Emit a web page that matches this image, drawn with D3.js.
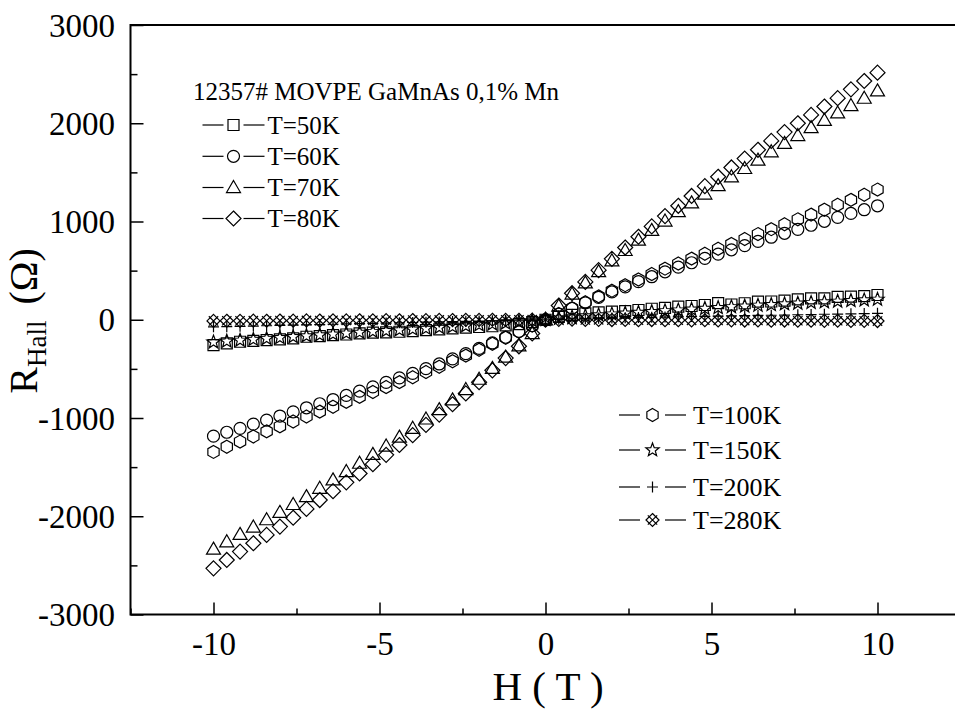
<!DOCTYPE html>
<html>
<head>
<meta charset="utf-8">
<script src="https://cdn.jsdelivr.net/npm/d3@7"></script>
<style>
  html, body { margin: 0; padding: 0; background: #fff; overflow: hidden; }
  text { font-family: "Liberation Serif", "Times New Roman", serif; fill: #000; }
</style>
</head>
<body>
<svg id="chart" width="955" height="709"></svg>
<script>
// Magnetic field (T)
const fieldT = [-10, -9.6, -9.2, -8.8, -8.4, -8, -7.6, -7.2, -6.8, -6.4, -6, -5.6, -5.2, -4.8, -4.4, -4, -3.6, -3.2, -2.8, -2.4, -2, -1.6, -1.2, -0.8, -0.4,
  0, 0.4, 0.8, 1.2, 1.6, 2, 2.4, 2.8, 3.2, 3.6, 4, 4.4, 4.8, 5.2, 5.6, 6, 6.4, 6.8, 7.2, 7.6, 8, 8.4, 8.8, 9.2, 9.6, 10];

// Hall resistance (Ohm) for each temperature
const hall50K = [-258, -241, -224, -214, -207, -200, -190, -173, -166, -156, -150, -139, -132, -129, -122, -115, -105, -97, -88, -80, -74, -66, -58, -45, -25,
  0, 30, 50, 65, 75, 82, 88, 99, 112, 120, 133, 140, 150, 170, 155, 168, 184, 186, 194, 208, 218, 218, 233, 236, 241, 252];
const hall60K = [-1185, -1145, -1105, -1063, -1022, -980, -938, -896, -855, -812, -770, -727, -683, -638, -592, -546, -498, -450, -398, -345, -292, -236, -178, -118, -60,
  0, 58, 115, 172, 228, 283, 335, 388, 438, 488, 535, 580, 625, 668, 712, 755, 798, 840, 880, 920, 962, 1002, 1042, 1082, 1120, 1160];
const hall70K = [-2335, -2260, -2185, -2110, -2035, -1960, -1880, -1800, -1715, -1630, -1545, -1460, -1370, -1285, -1195, -1105, -1010, -915, -815, -710, -605, -495, -380, -265, -140,
  0, 140, 262, 375, 490, 600, 705, 810, 910, 1005, 1100, 1190, 1280, 1365, 1455, 1540, 1625, 1710, 1795, 1875, 1955, 2030, 2105, 2180, 2255, 2330];
const hall80K = [-2530, -2445, -2360, -2275, -2190, -2105, -2015, -1925, -1835, -1745, -1655, -1565, -1470, -1375, -1275, -1175, -1070, -965, -860, -750, -635, -515, -390, -270, -140,
  0, 145, 270, 385, 505, 620, 735, 845, 950, 1055, 1160, 1260, 1360, 1455, 1550, 1640, 1730, 1820, 1910, 2000, 2085, 2170, 2255, 2345, 2430, 2515];
const hall100K = [-1345, -1292, -1240, -1188, -1136, -1085, -1035, -985, -935, -885, -835, -785, -735, -685, -635, -585, -532, -478, -422, -365, -305, -245, -183, -122, -60,
  0, 58, 118, 178, 238, 296, 352, 410, 465, 520, 572, 622, 672, 722, 772, 822, 872, 922, 972, 1022, 1070, 1120, 1170, 1220, 1272, 1325];
const hall150K = [-228, -219, -210, -201, -192, -183, -174, -165, -156, -147, -138, -129, -121, -113, -105, -97, -89, -80, -72, -63, -54, -45, -35, -24, -12,
  0, 14, 27, 38, 48, 57, 66, 74, 82, 90, 98, 106, 114, 122, 131, 138, 146, 153, 160, 167, 174, 180, 187, 194, 200, 207];
const hall200K = [-72, -70, -67, -64, -61, -58, -55, -52, -49, -46, -43, -40, -37, -34, -31, -28, -25, -22, -19, -16, -13, -10, -7, -5, -2,
  0, 4, 8, 11, 14, 17, 20, 22, 25, 27, 30, 32, 34, 37, 39, 41, 44, 46, 48, 51, 53, 56, 58, 60, 63, 65];
const hall280K = [-12, -10, -11, -9, -10, -8, -9, -7, -8, -6, -7, -5, -6, -4, -5, -3, -4, -2, -3, -1, -2, 0, -1, 0, 1,
  0, -1, 0, -2, -1, -3, -2, -4, -3, -5, -4, -6, -5, -7, -6, -8, -7, -9, -8, -10, -9, -11, -10, -12, -11, -13];

const seriesLabels = ["T=50K", "T=60K", "T=70K", "T=80K", "T=100K", "T=150K", "T=200K", "T=280K"];
const seriesValues = [hall50K, hall60K, hall70K, hall80K, hall100K, hall150K, hall200K, hall280K];
const seriesShapes = ["square", "circle", "triangle", "diamond", "hexagon", "star", "plus", "crossDiamond"];

const sampleTitle = "12357# MOVPE GaMnAs 0,1% Mn";
const xTickValues = [-10, -5, 0, 5, 10];
const xTickLabels = ["-10", "-5", "0", "5", "10"];
const xMinorValues = [-12.5, -7.5, -2.5, 2.5, 7.5, 12.5];
const yTickValues = [-3000, -2000, -1000, 0, 1000, 2000, 3000];
const yTickLabels = ["-3000", "-2000", "-1000", "0", "1000", "2000", "3000"];
const yMinorValues = [-2500, -1500, -500, 500, 1500, 2500];

// ---- symbol shapes (size = r^2) ----
function poly(ctx, pts) {
  ctx.moveTo(pts[0][0], pts[0][1]);
  for (let i = 1; i < pts.length; i++) ctx.lineTo(pts[i][0], pts[i][1]);
  ctx.closePath();
}
const shapeTypes = {
  square: { draw(ctx, size) { const s = Math.sqrt(size); poly(ctx, [[-s, -s], [s, -s], [s, s], [-s, s]]); } },
  circle: { draw(ctx, size) { const r = Math.sqrt(size); ctx.moveTo(r, 0); ctx.arc(0, 0, r, 0, 2 * Math.PI); ctx.closePath(); } },
  triangle: { draw(ctx, size) { const r = Math.sqrt(size); poly(ctx, [[0, -r], [r, r * 0.72], [-r, r * 0.72]]); } },
  diamond: { draw(ctx, size) { const r = Math.sqrt(size); poly(ctx, [[0, -r], [r, 0], [0, r], [-r, 0]]); } },
  hexagon: { draw(ctx, size) {
    const r = Math.sqrt(size);
    poly(ctx, d3.range(6).map(k => { const a = -Math.PI / 2 + k * Math.PI / 3; return [r * Math.cos(a), r * Math.sin(a)]; }));
  } },
  star: { draw(ctx, size) {
    const r = Math.sqrt(size), ri = r * 0.42;
    poly(ctx, d3.range(10).map(k => { const a = -Math.PI / 2 + k * Math.PI / 5, rr = k % 2 ? ri : r; return [rr * Math.cos(a), rr * Math.sin(a)]; }));
  } },
  plus: { draw(ctx, size) {
    const r = Math.sqrt(size);
    ctx.moveTo(-r, 0); ctx.lineTo(r, 0); ctx.moveTo(0, -r); ctx.lineTo(0, r);
  } },
  crossDiamond: { draw(ctx, size) {
    const r = Math.sqrt(size), a = r * 0.72;
    poly(ctx, [[0, -r], [r, 0], [0, r], [-r, 0]]);
    ctx.moveTo(-a, -a); ctx.lineTo(a, a); ctx.moveTo(-a, a); ctx.lineTo(a, -a);
  } }
};
const shapeSize = { square: 5.5, circle: 6, triangle: 7, diamond: 7.5, hexagon: 6.5, star: 7, plus: 5.5, crossDiamond: 6.5 };
function symbolPath(shape) {
  return d3.symbol().type(shapeTypes[shape]).size(shapeSize[shape] * shapeSize[shape])();
}

// ---- layout ----
const svg = d3.select("#chart");
const x = d3.scaleLinear().domain([-12.5, 12.5]).range([130.5, 960.5]);
const y = d3.scaleLinear().domain([-3000, 3000]).range([614.5, 25]);
const fontFamily = '"Liberation Serif", "Times New Roman", serif';

// x axis: major and minor ticks pointing inward
const xAxis = svg.append("g").attr("transform", `translate(0,${y(-3000)})`)
  .call(d3.axisBottom(x).tickValues(xTickValues).tickFormat((d, i) => xTickLabels[i])
    .tickSizeInner(-12).tickSizeOuter(0));
xAxis.select(".domain").remove();
xAxis.selectAll("line").attr("stroke-width", 1.5);
xAxis.selectAll("text").attr("y", 40.5).attr("dy", null)
  .attr("font-size", 33).attr("font-family", fontFamily).attr("fill", "#000");
const xMinor = svg.append("g").attr("transform", `translate(0,${y(-3000)})`)
  .call(d3.axisBottom(x).tickValues(xMinorValues).tickFormat("").tickSizeInner(-6).tickSizeOuter(0));
xMinor.select(".domain").remove();
xMinor.selectAll("line").attr("stroke-width", 1.5);

// y axis
const yAxis = svg.append("g").attr("transform", `translate(${x(-12.5)},0)`)
  .call(d3.axisLeft(y).tickValues(yTickValues).tickFormat((d, i) => yTickLabels[i])
    .tickSizeInner(-13).tickSizeOuter(0));
yAxis.select(".domain").remove();
yAxis.selectAll("line").attr("stroke-width", 1.5);
yAxis.selectAll("text").attr("x", -15.5).attr("dy", "0.34em")
  .attr("font-size", 33).attr("font-family", fontFamily).attr("fill", "#000");
const yMinor = svg.append("g").attr("transform", `translate(${x(-12.5)},0)`)
  .call(d3.axisLeft(y).tickValues(yMinorValues).tickFormat("").tickSizeInner(-7).tickSizeOuter(0));
yMinor.select(".domain").remove();
yMinor.selectAll("line").attr("stroke-width", 1.5);

// plot frame
svg.append("rect")
  .attr("x", x(-12.5)).attr("y", y(3000))
  .attr("width", x(12.5) - x(-12.5)).attr("height", y(-3000) - y(3000))
  .attr("fill", "none").attr("stroke", "#000").attr("stroke-width", 2);

// data markers
seriesValues.forEach((vals, si) => {
  const shape = seriesShapes[si];
  const d = symbolPath(shape);
  svg.append("g").attr("class", "series")
    .selectAll("path").data(fieldT.map((h, i) => [h, vals[i]])).join("path")
    .attr("transform", p => `translate(${x(p[0])},${y(p[1])})`)
    .attr("d", d).attr("fill", "none").attr("stroke", "#000").attr("stroke-width", 1.2);
});

// axis titles
svg.append("text").attr("x", 548).attr("y", 700).attr("text-anchor", "middle")
  .attr("font-size", 41).text("H ( T )");
const yt = svg.append("text").attr("transform", "translate(37,321) rotate(-90)")
  .attr("text-anchor", "middle").attr("font-size", 40);
yt.append("tspan").text("R");
yt.append("tspan").attr("font-size", 27).attr("dy", 9).text("Hall");
yt.append("tspan").attr("dy", -9).attr("dx", 16).text("(Ω)");

// legends
svg.append("text").attr("x", 193).attr("y", 100).attr("font-size", 25).text(sampleTitle);
const legendTopRows = [125, 156.3, 187.5, 218.5];
const legendBottomRows = [415, 450, 487, 520];
function legendEntry(si, x0, cy, fs, gap) {
  const g = svg.append("g");
  g.append("line").attr("x1", x0).attr("x2", x0 + 21).attr("y1", cy).attr("y2", cy).attr("stroke", "#000").attr("stroke-width", 1.2);
  g.append("path").attr("d", symbolPath(seriesShapes[si])).attr("transform", `translate(${x0 + 21 + gap},${cy})`)
    .attr("fill", "none").attr("stroke", "#000").attr("stroke-width", 1.2);
  g.append("line").attr("x1", x0 + 21 + 2 * gap).attr("x2", x0 + 42 + 2 * gap).attr("y1", cy).attr("y2", cy).attr("stroke", "#000").attr("stroke-width", 1.2);
  g.append("text").attr("x", x0 + 45 + 2 * gap + (gap > 11 ? 4 : 0)).attr("y", cy + 8.5).attr("font-size", fs).text(seriesLabels[si]);
}
[0, 1, 2, 3].forEach((si, k) => legendEntry(si, 202.5, legendTopRows[k], 25, 10));
[4, 5, 6, 7].forEach((si, k) => legendEntry(si, 619, legendBottomRows[k], 26, 12.5));
</script>
</body>
</html>
